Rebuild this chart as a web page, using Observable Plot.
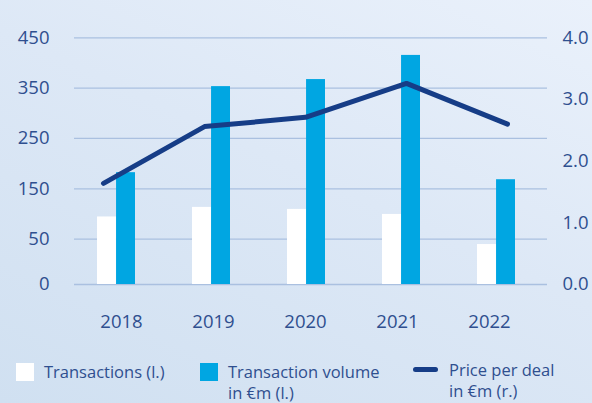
<!DOCTYPE html>
<html><head><meta charset="utf-8">
<script src="https://cdn.jsdelivr.net/npm/d3@7"></script>
<script src="https://cdn.jsdelivr.net/npm/@observablehq/plot@0.6"></script>
<style>
html,body{margin:0;padding:0;}
body{width:592px;height:403px;overflow:hidden;position:relative;
  background:linear-gradient(205deg,#eaf1fb 0%,#dde8f6 45%,#d0e0f1 100%);
  font-family:"Open Sans",sans-serif;color:#2f4f8f;}
#chart{position:absolute;left:0;top:0;width:592px;height:340px;}
#chart svg{position:absolute;left:0;top:0;background:transparent;overflow:visible;}
.lg{position:absolute;font-size:16.5px;line-height:21px;white-space:nowrap;color:#2f4f8f;}
.sw{position:absolute;}
</style>
</head><body>
<div id="chart"></div>
<div class="sw" style="left:16px;top:363px;width:18px;height:18px;background:#ffffff;"></div>
<div class="lg" style="left:44px;top:361px;">Transactions (l.)</div>
<div class="sw" style="left:200px;top:363px;width:18px;height:18px;background:#00a6e2;"></div>
<div class="lg" style="left:228px;top:360.5px;">Transaction volume<br>in €m (l.)</div>
<div class="sw" style="left:413px;top:367px;width:25px;height:5px;border-radius:3px;background:#163d87;"></div>
<div class="lg" style="left:449px;top:358.8px;">Price per deal<br>in €m (r.)</div>
<script>
const years = ["2018", "2019", "2020", "2021", "2022"];
const transactions = [94, 113, 109, 99, 44];
const volume = [182, 353, 367, 415, 168];
const price = [1.64, 2.56, 2.71, 3.26, 2.60];
const leftTicks = [0, 50, 150, 250, 350, 450];
const rightTicks = [0, 1, 2, 3, 4];

const rows = years.map((year, i) => ({year, transactions: transactions[i], volume: volume[i], price: price[i]}));

const W = 592, H = 340;
const textColor = "#2f4f8f";
const half = 0.4 * (515.6 - 96.3) / 4.4 / 2;

const bars = Plot.plot({
  width: W, height: H,
  marginLeft: 74, marginRight: 45, marginTop: 37.3, marginBottom: 56,
  style: {background: "transparent", color: textColor, fontFamily: "Open Sans, sans-serif"},
  x: {type: "band", domain: years, range: [96.3, 515.6], paddingInner: 0.6, paddingOuter: 0, align: 0.5, axis: null},
  y: {type: "linear", domain: [0, 50, 450], range: [284, 238.6, 37.3], axis: null},
  marks: [
    Plot.ruleY(leftTicks, {stroke: "#aac0e0", strokeWidth: 1.3}),
    Plot.barY(rows, {x: "year", y: "transactions", fill: "#ffffff", insetRight: half}),
    Plot.barY(rows, {x: "year", y: "volume", fill: "#00a6e2", insetLeft: half}),
    Plot.axisY(leftTicks, {anchor: "left", tickSize: 0, tickPadding: 25, fontSize: 18.5, label: null})
  ]
});

const xlabels = Plot.plot({
  width: W, height: H,
  marginLeft: 74, marginRight: 45, marginTop: 37.3, marginBottom: 56,
  style: {background: "transparent", color: textColor, fontFamily: "Open Sans, sans-serif"},
  x: {type: "point", domain: years, range: [120, 489], padding: 0},
  marks: [
    Plot.axisX({anchor: "bottom", tickSize: 0, tickPadding: 30, fontSize: 18.5, label: null})
  ]
});

const line = Plot.plot({
  width: W, height: H,
  marginLeft: 74, marginRight: 45, marginTop: 37.3, marginBottom: 56,
  style: {background: "transparent", color: textColor, fontFamily: "Open Sans, sans-serif"},
  x: {type: "point", domain: years, range: [101.5, 507.5], padding: 0, axis: null},
  y: {type: "linear", domain: [0, 4], range: [284, 37.3], axis: null},
  marks: [
    Plot.line(rows, {x: "year", y: "price", stroke: "#163d87", strokeWidth: 5, strokeLinecap: "round", strokeLinejoin: "round"}),
    Plot.axisY(rightTicks, {anchor: "right", tickSize: 0, tickPadding: 15, tickFormat: d => d.toFixed(1), fontSize: 18.5, textAnchor: "start", label: null})
  ]
});

const el = document.getElementById("chart");
el.append(bars, xlabels, line);
</script>
</body></html>
